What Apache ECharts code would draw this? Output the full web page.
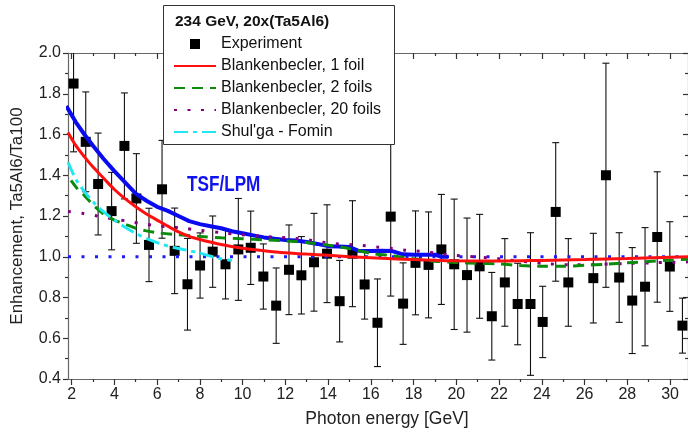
<!DOCTYPE html>
<html>
<head>
<meta charset="utf-8">
<script src="https://cdn.jsdelivr.net/npm/echarts@6/dist/echarts.min.js"></script>
<style>html,body{margin:0;padding:0;background:#fff}#c{width:688px;height:433px}</style>
</head>
<body>
<div id="c"></div>
<script>
// ---- data ----
const expX   = [2.09,2.66,3.24,3.87,4.47,5.03,5.62,6.23,6.82,7.42,8.01,8.60,9.20,9.80,10.38,10.97,11.57,12.17,12.75,13.34,13.95,14.54,15.14,15.71,16.31,16.93,17.51,18.09,18.70,19.30,19.90,20.50,21.09,21.66,22.27,22.87,23.47,24.04,24.65,25.24,26.41,27.00,27.62,28.23,28.83,29.40,29.99,30.58];
const expY   = [1.85,1.564,1.357,1.224,1.544,1.286,1.058,1.331,1.029,0.865,0.957,1.025,0.963,1.036,1.044,0.903,0.76,0.936,0.909,0.973,1.015,0.782,1.015,0.864,0.676,1.197,0.77,0.97,0.96,1.036,0.963,0.91,0.953,0.708,0.874,0.768,0.768,0.68,1.22,0.874,0.895,1.40,0.898,0.785,0.853,1.097,0.952,0.662];
const expErr = [0.335,0.245,0.25,0.19,0.26,0.22,0.18,0.24,0.21,0.225,0.16,0.175,0.17,0.25,0.18,0.16,0.185,0.22,0.19,0.24,0.24,0.2,0.26,0.17,0.215,0.39,0.2,0.255,0.26,0.27,0.32,0.28,0.255,0.215,0.215,0.2,0.35,0.175,0.34,0.215,0.22,0.55,0.22,0.26,0.29,0.32,0.22,0.135];

const red1X = [1.83,2.2,2.6,3.0,3.5,4.0,4.5,5.0,5.5,6.0,6.5,7.0,7.5,8.0,9.0,10.0,11.0,12.0,13.0,14.0,15.0,16.0,17.0,18.0,19.0,20.0,22.0,24.0,26.0,28.0,30.84];
const red1Y = [1.61,1.545,1.49,1.44,1.385,1.33,1.285,1.245,1.21,1.18,1.15,1.122,1.1,1.085,1.06,1.042,1.03,1.02,1.013,1.007,1.0,0.995,0.99,0.986,0.983,0.98,0.979,0.982,0.986,0.991,1.0];

const green2X = [1.97,2.3,2.6,3.0,3.5,4.0,4.5,5.0,5.5,6.0,7.0,8.0,9.0,10.0,11.0,12.0,13.0,14.0,15.0,16.0,17.0,18.0,19.0,20.0,21.0,22.0,23.0,24.0,25.0,26.0,27.0,28.0,29.0,30.0,30.84];
const green2Y = [1.375,1.33,1.30,1.255,1.21,1.18,1.16,1.14,1.127,1.118,1.108,1.1,1.093,1.088,1.083,1.078,1.07,1.057,1.04,1.017,1.005,0.99,0.978,0.972,0.968,0.965,0.957,0.953,0.953,0.958,0.963,0.97,0.977,0.983,0.988];

const purple20X = [1.83,2.5,3.2,4.0,4.6,5.2,5.8,6.5,7.2,8.0,9.0,10.0,11.0,11.7,12.4,13.1,13.7,14.3,15.0,15.6,16.3,17.0,17.6,18.3,19.0,19.6,20.2,20.8,21.5,22.2,22.8,23.4,24.1,25.5,26.7,28.0,29.4,30.84];
const purple20Y = [1.222,1.213,1.2,1.185,1.175,1.164,1.155,1.147,1.14,1.13,1.118,1.108,1.1,1.095,1.09,1.082,1.072,1.064,1.06,1.056,1.048,1.04,1.032,1.027,1.018,1.01,1.005,1.0,0.995,0.988,0.98,0.975,0.967,0.96,0.963,0.967,0.971,0.975];

const cyanX = [1.83,2.2,2.6,3.0,3.5,4.0,4.5,5.0,5.6,6.2,6.8,7.4,8.0,8.6,9.0,9.5];
const cyanY = [1.464,1.38,1.32,1.27,1.22,1.18,1.145,1.115,1.085,1.062,1.045,1.032,1.018,1.0,0.99,0.982];

const tsfX = [1.75,2.2,2.6,3.0,3.5,4.0,4.5,5.0,5.5,6.0,6.5,7.0,7.5,8.0,8.5,9.0,9.5,10.0,10.5,11.0,11.5,12.0,12.5,13.0,13.5,14.0,14.5,15.0,15.4,16.0,16.5,17.0,17.5,18.0,18.5,19.0,19.3,19.62];
const tsfY = [1.74,1.66,1.6,1.545,1.48,1.42,1.365,1.31,1.275,1.245,1.225,1.2,1.175,1.16,1.15,1.14,1.125,1.115,1.105,1.095,1.088,1.082,1.08,1.072,1.063,1.052,1.05,1.048,1.03,1.028,1.03,1.028,1.012,1.01,1.01,1.01,1.0,1.0];

const unityX = [1.83,30.84];
const unityY = [1.0,1.0];

const xMajor = [2,4,6,8,10,12,14,16,18,20,22,24,26,28,30];
const xMinor = [3,5,7,9,11,13,15,17,19,21,23,25,27,29];

const names = ['Experiment','Blankenbecler, 1 foil','Blankenbecler, 2 foils','Blankenbecler, 20 foils',"Shul'ga - Fomin"];
const legendTitle = '234 GeV, 20x(Ta5Al6)';
const xTitle = 'Photon energy [GeV]';
const yTitle = 'Enhancement, Ta5Al6/Ta100';

// ---- chart ----
const FONT = '"Liberation Sans", Arial, sans-serif';
const X_MIN = 1.83, X_MAX = 30.84, Y_MIN = 0.4, Y_MAX = 2.0;
const zip = (a, b) => a.map((v, i) => [v, b[i]]);
const axisCol = '#666', tickCol = '#333';

const baseX = {type:'value', min:X_MIN, max:X_MAX, splitLine:{show:false}, gridIndex:0};
const chart = echarts.init(document.getElementById('c'), null, {renderer:'canvas'});

const legendData = names.map((n, i) => i === 0
  ? {name:n, icon:'path://M0,0M42,10M16,0L26,0L26,10L16,10Z'}
  : {name:n, itemStyle:{opacity:0}});

const option = {
  animation:false,
  backgroundColor:'#fff',
  grid:{left:68, right:0, top:53, bottom:50, containLabel:false},
  xAxis:[
    Object.assign({}, baseX, {position:'bottom',
      name:xTitle, nameLocation:'middle', nameGap:31,
      nameTextStyle:{fontFamily:FONT, fontSize:17.5, color:'#222', padding:[0,0,0,18]},
      axisLine:{show:true, onZero:false, lineStyle:{color:axisCol, width:1.2}},
      axisTick:{show:true, inside:false, length:6, customValues:xMajor, lineStyle:{color:tickCol, width:1.2}},
      axisLabel:{show:true, customValues:xMajor, margin:8, fontFamily:FONT, fontSize:16, color:'#222'}}),
    Object.assign({}, baseX, {position:'bottom',
      axisLine:{show:false, onZero:false},
      axisTick:{show:true, inside:false, length:3, customValues:xMinor, lineStyle:{color:tickCol, width:1.2}},
      axisLabel:{show:false}}),
    Object.assign({}, baseX, {position:'top',
      axisLine:{show:true, onZero:false, lineStyle:{color:axisCol, width:1.2}},
      axisTick:{show:true, inside:true, length:6, customValues:xMajor, lineStyle:{color:tickCol, width:1.2}},
      axisLabel:{show:false}}),
    Object.assign({}, baseX, {position:'top',
      axisLine:{show:false, onZero:false},
      axisTick:{show:true, inside:true, length:3, customValues:xMinor, lineStyle:{color:tickCol, width:1.2}},
      axisLabel:{show:false}})
  ],
  yAxis:[
    {type:'value', min:Y_MIN, max:Y_MAX, interval:0.2, position:'left',
      name:yTitle, nameLocation:'middle', nameGap:42,
      nameTextStyle:{fontFamily:FONT, fontSize:17, color:'#222'},
      axisLine:{show:true, onZero:false, lineStyle:{color:axisCol, width:1.2}},
      axisTick:{show:true, inside:false, length:5, lineStyle:{color:tickCol, width:1.2}},
      minorTick:{show:true, splitNumber:2, length:3, lineStyle:{color:tickCol, width:1.2}},
      splitLine:{show:false},
      axisLabel:{fontFamily:FONT, fontSize:16, color:'#222', margin:7, formatter:v=>v.toFixed(1)}},
    {type:'value', min:Y_MIN, max:Y_MAX, interval:0.2, position:'right',
      axisLine:{show:true, onZero:false, lineStyle:{color:axisCol, width:1.2}},
      axisTick:{show:true, inside:true, length:5, lineStyle:{color:tickCol, width:1.2}},
      minorTick:{show:true, splitNumber:2, length:3, lineStyle:{color:tickCol, width:1.2}},
      splitLine:{show:false}, axisLabel:{show:false}}
  ],
  legend:{
    data:legendData, orient:'vertical', left:173, top:36, padding:0,
    itemWidth:42, itemHeight:10, itemGap:6,
    textStyle:{fontFamily:FONT, fontSize:16, color:'#111'},
    selectedMode:false, z:6
  },
  graphic:[
    {type:'rect', z:5, shape:{x:163.5, y:5.5, width:231, height:139},
      style:{fill:'#fff', stroke:'#333', lineWidth:1}},
    {type:'text', z:7, left:175, top:14,
      style:{text:legendTitle, font:'bold 15.5px "Liberation Sans", Arial, sans-serif', fill:'#111'}},
    {type:'text', z:7, x:187, y:174, scaleX:0.78,
      style:{text:'TSF/LPM', font:'bold 22px "Liberation Sans", Arial, sans-serif', fill:'#1212f0'}}
  ],
  series:[
    {name:'errors', type:'custom', xAxisIndex:0, yAxisIndex:0, z:2,
      data:expX.map((x,i)=>[x, expY[i], expErr[i]]),
      renderItem:function(params, api){
        const cs = params.coordSys;
        const x = api.value(0), y = api.value(1), e = api.value(2);
        const pTop = api.coord([x, y + e]), pBot = api.coord([x, y - e]);
        const topY = Math.max(pTop[1], cs.y), botY = Math.min(pBot[1], cs.y + cs.height);
        const hw = 3.5, st = {stroke:'#111', lineWidth:1.1};
        const ch = [{type:'line', shape:{x1:pTop[0], y1:topY, x2:pTop[0], y2:botY}, style:st}];
        if (pTop[1] >= cs.y) ch.push({type:'line', shape:{x1:pTop[0]-hw, y1:pTop[1], x2:pTop[0]+hw, y2:pTop[1]}, style:st});
        if (pBot[1] <= cs.y + cs.height) ch.push({type:'line', shape:{x1:pBot[0]-hw, y1:pBot[1], x2:pBot[0]+hw, y2:pBot[1]}, style:st});
        return {type:'group', children:ch};
      }},
    {name:names[0], type:'scatter', symbol:'rect', symbolSize:10, z:3,
      itemStyle:{color:'#000', opacity:1}, data:zip(expX, expY)},
    {name:'unity', type:'line', showSymbol:false, symbol:'none', z:4,
      lineStyle:{color:'#1a1aff', width:3, type:[3,10.5], cap:'butt'}, data:zip(unityX, unityY)},
    {name:'TSF', type:'line', showSymbol:false, symbol:'none', z:4,
      lineStyle:{color:'#0a0af0', width:4}, data:zip(tsfX, tsfY)},
    {name:names[3], type:'line', showSymbol:false, symbol:'none', z:4, smooth:0.3,
      itemStyle:{color:'#800080'},
      lineStyle:{color:'#800080', width:3, type:[3,10.5], cap:'butt'}, data:zip(purple20X, purple20Y)},
    {name:names[2], type:'line', showSymbol:false, symbol:'none', z:4, smooth:0.3,
      itemStyle:{color:'#0b8a0b'},
      lineStyle:{color:'#0b8a0b', width:3, type:[11,7]}, data:zip(green2X, green2Y)},
    {name:names[4], type:'line', showSymbol:false, symbol:'none', z:4, smooth:0.3,
      itemStyle:{color:'#20e8f0'},
      lineStyle:{color:'#20e8f0', width:3, type:[14,5,4,5]}, data:zip(cyanX, cyanY)},
    {name:names[1], type:'line', showSymbol:false, symbol:'none', z:4, smooth:0.3,
      itemStyle:{color:'#ff1010'},
      lineStyle:{color:'#ff1010', width:3}, data:zip(red1X, red1Y)}
  ]
};
chart.setOption(option);
</script>
</body>
</html>
